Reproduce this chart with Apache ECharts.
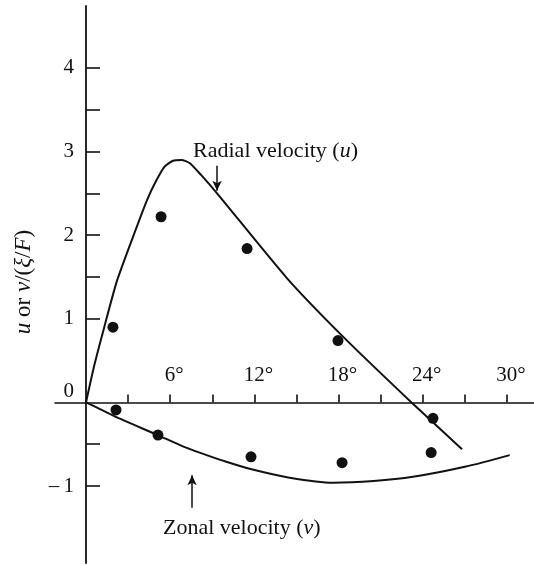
<!DOCTYPE html>
<html>
<head>
<meta charset="utf-8">
<script src="https://cdn.jsdelivr.net/npm/echarts@6/dist/echarts.min.js"></script>
<style>
html,body{margin:0;padding:0;background:#fff;}
#chart{width:534px;height:565px;}
</style>
</head>
<body>
<div id="chart"></div>
<script>
// ---- data (degrees, dimensionless velocity) ----
const radialCurve = [
  [0,0],[0.6,0.45],[1.3,0.9],[2.2,1.45],[3.35,1.98],[4.35,2.42],[5.0,2.65],[5.6,2.82],
  [6.2,2.89],[6.8,2.9],[7.4,2.86],[8.2,2.72],[9.34,2.5],[14.3,1.49],[18.3,0.79],[23.2,0],[26.8,-0.56]
];
const zonalCurve = [
  [0,0],[1,-0.08],[2.5,-0.2],[5.1,-0.39],[6.7,-0.51],[8.1,-0.6],[10,-0.71],[11.8,-0.8],
  [14.5,-0.9],[17.6,-0.96],[20.5,-0.94],[23.3,-0.89],[27,-0.77],[30.2,-0.63]
];
const radialObs = [[1.92,0.90],[5.35,2.22],[11.48,1.84],[17.96,0.74],[24.73,-0.19]];
const zonalObs = [[2.14,-0.09],[5.13,-0.39],[11.76,-0.65],[18.25,-0.72],[24.6,-0.60]];
const xTickValues = [3,6,9,12,15,18,21,24,27,30];
const xLabelValues = [6,12,18,24,30];
const yTickValues = [-1,-0.5,1,1.5,2,2.5,3,3.5,4];
const yLabelValues = [-1,0,1,2,3,4];
const radialText = 'Radial velocity ({i|u})';
const zonalText = 'Zonal velocity ({i|v})';
const yName = '{i|u} or {i|v}/({i|ξ}/{i|F})';

const FONT = '"Liberation Serif","DejaVu Serif",serif';
const INK = '#111';
const chart = echarts.init(document.getElementById('chart'), null, {renderer:'canvas'});

const option = {
  animation:false,
  backgroundColor:'#fff',
  grid:{left:55,right:0,top:6,bottom:2,containLabel:false},
  xAxis:{
    type:'value', min:-2.21, max:31.93,
    axisLine:{show:true,onZero:true,lineStyle:{color:INK,width:1.6}},
    axisTick:{show:true,inside:true,length:8,customValues:xTickValues,lineStyle:{color:INK,width:1.6}},
    axisLabel:{show:true,inside:true,margin:177,customValues:xLabelValues,
      fontFamily:FONT,fontSize:21,color:INK,padding:[0,0,0,8],
      formatter:v=>v+'°'},
    splitLine:{show:false}
  },
  yAxis:{
    type:'value', min:-1.92, max:4.74,
    axisLine:{show:true,onZero:true,lineStyle:{color:INK,width:1.8}},
    axisTick:{show:true,inside:true,length:14,customValues:yTickValues,lineStyle:{color:INK,width:1.6}},
    axisLabel:{show:true,margin:-19,customValues:yLabelValues,
      fontFamily:FONT,fontSize:21,color:INK,
      formatter:v=>v===0?'{z|0}':(v<0?'–\u2009'+Math.abs(v):String(v)),
      rich:{z:{fontFamily:FONT,fontSize:21,color:INK,padding:[0,0,22,0]}}},
    splitLine:{show:false}
  },
  series:[
    {type:'line',data:radialCurve,showSymbol:false,smooth:0.2,
     lineStyle:{color:INK,width:2},
     markLine:{silent:true,symbol:['none','arrow'],symbolSize:[7,10],label:{show:false},
       lineStyle:{color:INK,width:1.5,type:'solid'},
       data:[[{coord:[9.34,2.83]},{coord:[9.34,2.53]}]]}},
    {type:'line',data:zonalCurve,showSymbol:false,smooth:0.3,
     lineStyle:{color:INK,width:2},
     markLine:{silent:true,symbol:['none','arrow'],symbolSize:[7,10],label:{show:false},
       lineStyle:{color:INK,width:1.5,type:'solid'},
       data:[[{coord:[7.56,-1.26]},{coord:[7.56,-0.87]}]]}},
    {type:'scatter',data:radialObs,symbolSize:11,itemStyle:{color:INK,opacity:1}},
    {type:'scatter',data:zonalObs,symbolSize:11,itemStyle:{color:INK,opacity:1}}
  ]
};
chart.setOption(option);

const richI = {i:{fontFamily:FONT,fontSize:22,fontStyle:'italic',fill:INK}};
const richI2 = {i:{fontFamily:FONT,fontSize:23,fontStyle:'italic',fill:INK}};
const p1 = chart.convertToPixel({gridIndex:0},[7.63,3.0]);
const p2 = chart.convertToPixel({gridIndex:0},[5.49,-1.50]);
chart.setOption({graphic:[
  {type:'text',x:p1[0],y:p1[1],style:{text:radialText,rich:richI,fontFamily:FONT,fontSize:22,fill:INK,verticalAlign:'middle',align:'left'}},
  {type:'text',x:p2[0],y:p2[1],style:{text:zonalText,rich:richI,fontFamily:FONT,fontSize:22,fill:INK,verticalAlign:'middle',align:'left'}},
  {type:'text',x:24,y:282,rotation:Math.PI/2,style:{text:yName,rich:richI2,fontFamily:FONT,fontSize:23,fill:INK,verticalAlign:'middle',align:'center'}}
]});
</script>
</body>
</html>
